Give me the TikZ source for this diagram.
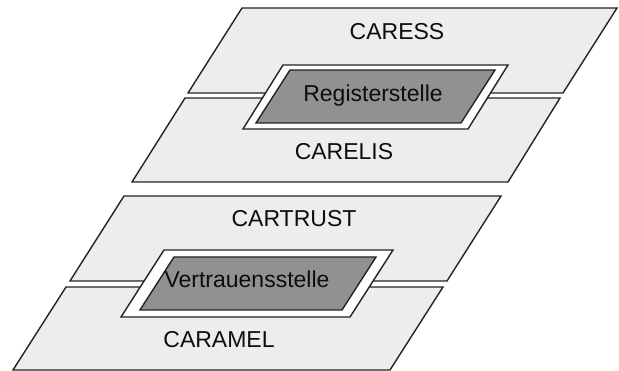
\documentclass[tikz,border=0pt]{standalone}
\usepackage{fontspec}
\setmainfont{Liberation Sans}
\definecolor{layerfill}{RGB}{236,237,239}
\definecolor{hubfill}{RGB}{145,145,148}
\definecolor{edgecol}{RGB}{35,35,35}

\begin{document}
\begin{tikzpicture}
[
x=1pt, y=-1pt,
layer/.style={draw=edgecol, line width=1.4pt, fill=layerfill},
outerbox/.style={draw=edgecol, line width=1.4pt, fill=white},
innerbox/.style={draw=edgecol, line width=1.4pt, fill=hubfill},
lbl/.style={draw=none, text centered, anchor=base, text=black!95, inner sep=0pt, font=\fontsize{23}{27}\selectfont}
]
\useasboundingbox (0,0) rectangle (619,371);
% upper group
\draw[layer] (242,8) -- (617,8) -- (563,93) -- (188,93) -- cycle;
\draw[layer] (185,98) -- (560,98) -- (508,182) -- (132,182) -- cycle;
\draw[outerbox] (283,65) -- (508,65) -- (468,129) -- (243,129) -- cycle;
\draw[innerbox] (290,70) -- (495,70) -- (461,123) -- (256,123) -- cycle;
\node (caress) [lbl] at (397,40) {CARESS};
\node (reg) [lbl] at (373,102) {Registerstelle};
\node (carelis) [lbl] at (344,160) {CARELIS};
% lower group
\draw[layer] (124,196) -- (501,196) -- (447,281) -- (70,281) -- cycle;
\draw[layer] (66,287) -- (443,287) -- (390,370) -- (13,370) -- cycle;
\draw[outerbox] (164,250) -- (393,250) -- (350,317) -- (121,317) -- cycle;
\draw[innerbox] (174,257) -- (376,257) -- (342,310) -- (140,310) -- cycle;
\node (cartrust) [lbl] at (294,227) {CARTRUST};
\node (vert) [lbl] at (247,288) {Vertrauensstelle};
\node (caramel) [lbl] at (219,348) {CARAMEL};
\end{tikzpicture}
\end{document}
